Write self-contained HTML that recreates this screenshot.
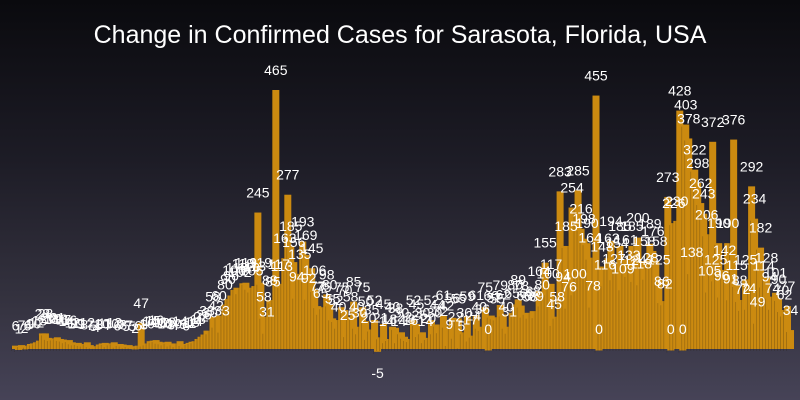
<!DOCTYPE html>
<html><head><meta charset="utf-8">
<style>
html,body{margin:0;padding:0;}
body{width:800px;height:400px;overflow:hidden;background:linear-gradient(#0a0a0e 0%,#1d1c26 40%,#34323f 75%,#464357 100%);font-family:"Liberation Sans",sans-serif;}
svg{display:block}
</style></head><body>
<svg id="chart" width="800" height="400" xmlns="http://www.w3.org/2000/svg">
<text x="400" y="43" text-anchor="middle" fill="#ffffff" font-size="25" font-family="Liberation Sans, sans-serif">Change in Confirmed Cases for Sarasota, Florida, USA</text>
<g id="bars"></g>
<g id="labels"></g>
</svg>
<script>
const dayIndex = Array.from({length:260},(_,i)=>i);
const dailyChange = [
6,1,7,2,6,9,10,12,15,28,
28,20,18,19,21,18,17,14,16,12,
10,11,9,8,12,7,5,4,8,10,
11,7,10,12,6,9,8,5,7,5,
2,6,47,8,10,14,15,16,13,12,
10,13,8,10,7,14,9,6,11,13,
14,18,22,26,33,30,58,42,60,33,
80,90,96,106,110,102,118,119,110,105,
113,245,119,58,31,88,85,465,117,113,
163,277,185,156,94,135,193,169,92,145,
106,77,65,75,98,80,55,52,40,75,
70,25,58,85,40,30,75,50,20,35,
52,-5,21,45,14,18,40,38,14,30,
22,18,16,52,45,25,30,14,20,52,
30,44,32,61,42,9,56,22,55,5,
30,59,17,24,61,40,36,75,0,60,
57,55,79,62,40,31,65,80,89,78,
60,65,58,68,59,104,80,155,100,117,
45,58,283,94,185,76,254,100,285,216,
198,190,164,78,455,0,148,116,163,194,
127,154,185,109,161,133,185,124,200,118,
158,128,189,176,158,125,86,82,273,0,
226,230,428,0,403,378,138,322,298,262,
243,206,105,372,125,190,96,142,190,91,
376,115,88,72,125,74,292,234,49,182,
114,128,94,74,101,90,70,62,77,34];
const NS="http://www.w3.org/2000/svg";
const x0=12, x1=790, baseY=349, k=(349-90)/465;
const step=(x1-x0)/dailyChange.length;
const xScale=i=>x0+i*step;
const yScale=v=>baseY-v*k;
const bars=document.getElementById('bars');
const labels=document.getElementById('labels');
dailyChange.forEach((v,i)=>{
  const x=xScale(dayIndex[i]);
  const y=Math.min(yScale(v),baseY), h=Math.max(Math.abs(yScale(v)-baseY),1.5);
  const s=document.createElementNS(NS,'rect');
  
  
  s.setAttribute('x',x-1);s.setAttribute('y',y+2);s.setAttribute('width',1);s.setAttribute('height',h);
  s.setAttribute('fill','rgba(40,30,20,0.25)');
  bars.appendChild(s);
  const r=document.createElementNS(NS,'rect');
  
  
  r.setAttribute('x',x);r.setAttribute('y',y);r.setAttribute('width',7);r.setAttribute('height',h);
  r.setAttribute('fill','#cb8a10');
  bars.appendChild(r);
  const t=document.createElementNS(NS,'text');
  
  
  t.setAttribute('x',x+3.5);
  t.setAttribute('y',v<0?yScale(v)+26:yScale(v)-15);
  t.setAttribute('text-anchor','middle');
  t.setAttribute('fill','#ffffff');
  t.setAttribute('font-size','14');
  t.textContent=v;
  labels.appendChild(t);
});
</script>
</body></html>
